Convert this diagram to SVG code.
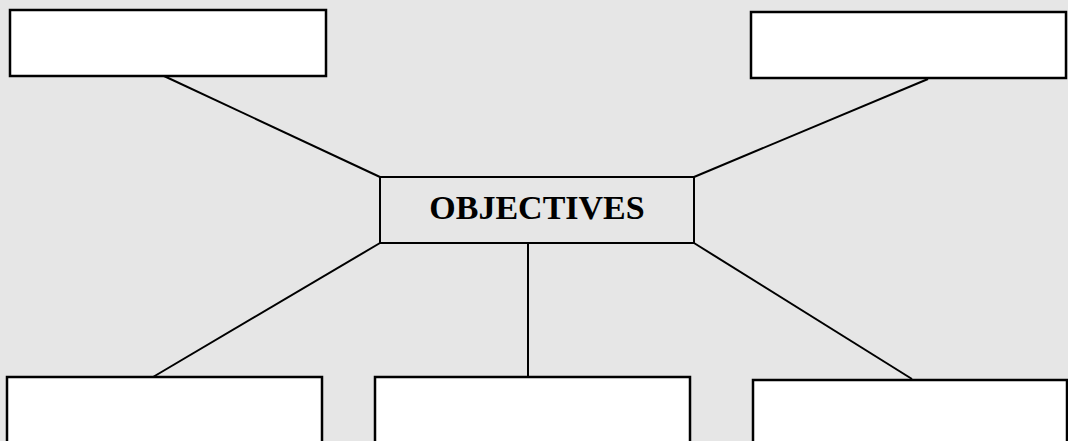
<svg xmlns="http://www.w3.org/2000/svg" width="1068" height="441" viewBox="0 0 1068 441">
<style>
.box{fill:#ffffff;stroke:#000;stroke-width:2.5}
.center{fill:#e6e6e6;stroke:#000;stroke-width:2}
.conn line{stroke:#000;stroke-width:2}
.label{font-family:"Liberation Serif",serif;font-weight:bold;font-size:34px;fill:#000}
</style>
<rect width="1068" height="441" fill="#e6e6e6"/>
<g id="connectors" class="conn">
<line x1="164" y1="76" x2="380" y2="177"/>
<line x1="928" y1="79" x2="694" y2="177"/>
<line x1="380" y1="243" x2="153" y2="377"/>
<line x1="528" y1="243" x2="528" y2="377"/>
<line x1="694" y1="243" x2="912" y2="379"/>
</g>
<g id="node-top-left"><rect class="box" x="10" y="10" width="316" height="66"/></g>
<g id="node-top-right"><rect class="box" x="751" y="12" width="315" height="66"/></g>
<g id="node-center"><rect class="center" x="380" y="177" width="314" height="66"/><text class="label" x="537" y="219" text-anchor="middle">OBJECTIVES</text></g>
<g id="node-bottom-left"><rect class="box" x="7" y="377" width="315" height="80"/></g>
<g id="node-bottom-middle"><rect class="box" x="375" y="377" width="315" height="80"/></g>
<g id="node-bottom-right"><rect class="box" x="753" y="380" width="314" height="80"/></g>
</svg>
